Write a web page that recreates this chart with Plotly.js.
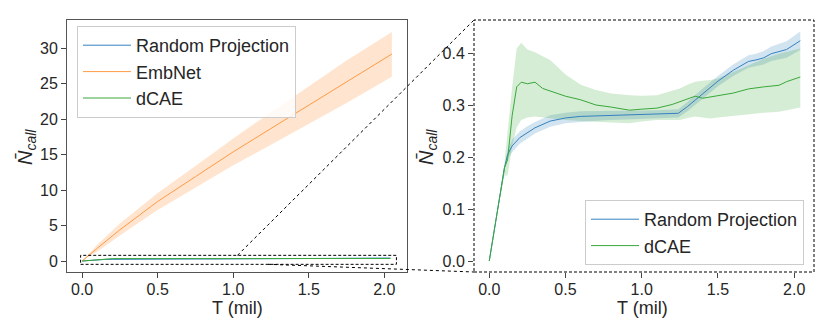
<!DOCTYPE html>
<html>
<head>
<meta charset="utf-8">
<script src="https://cdn.plot.ly/plotly-3.0.1.min.js"></script>
<style>
  html, body { margin: 0; padding: 0; background: #fff; }
  #graph { width: 830px; height: 332px; }
</style>
</head>
<body>
<div id="graph"></div>
<script>
// Random Projection (blue)
var rpT = [0, 0.05, 0.1, 0.12, 0.15, 0.2, 0.25, 0.3, 0.4, 0.5, 0.6, 0.75, 0.9, 1.0, 1.1, 1.24, 1.3, 1.4, 1.5, 1.6, 1.7, 1.75, 1.8, 1.85, 1.9, 1.95, 2.04];
var rpMean = [0, 0.09, 0.18, 0.205, 0.222, 0.238, 0.248, 0.257, 0.27, 0.276, 0.279, 0.2805, 0.281, 0.2825, 0.283, 0.285, 0.298, 0.323, 0.347, 0.368, 0.385, 0.388, 0.392, 0.4, 0.404, 0.408, 0.425];
var rpUpper = [0, 0.092, 0.185, 0.213, 0.234, 0.25, 0.26, 0.268, 0.281, 0.286, 0.289, 0.2895, 0.289, 0.2905, 0.291, 0.293, 0.307, 0.333, 0.357, 0.379, 0.397, 0.4, 0.405, 0.414, 0.419, 0.424, 0.443];
var rpLower = [0, 0.088, 0.175, 0.197, 0.21, 0.226, 0.236, 0.246, 0.259, 0.266, 0.269, 0.2715, 0.273, 0.2745, 0.275, 0.277, 0.289, 0.313, 0.337, 0.357, 0.373, 0.376, 0.379, 0.386, 0.389, 0.392, 0.407];

// EmbNet (orange)
var embT = [0, 0.05, 0.1, 0.25, 0.5, 0.75, 1.0, 1.25, 1.5, 1.75, 2.05];
var embMean = [0, 0.95, 1.8, 4.4, 8.4, 11.9, 15.4, 18.7, 22.0, 25.3, 29.2];
var embUpper = [0, 1.2, 2.3, 5.3, 9.6, 13.4, 17.3, 21.0, 24.7, 28.3, 32.3];
var embLower = [0, 0.7, 1.3, 3.6, 7.2, 10.4, 13.5, 16.4, 19.3, 22.3, 26.0];

// dCAE (green)
var dcaeT = [0, 0.05, 0.1, 0.12, 0.15, 0.18, 0.21, 0.25, 0.3, 0.35, 0.4, 0.5, 0.6, 0.7, 0.8, 0.92, 1.0, 1.1, 1.2, 1.25, 1.3, 1.35, 1.4, 1.45, 1.5, 1.6, 1.7, 1.8, 1.9, 1.95, 2.04];
var dcaeMean = [0, 0.09, 0.18, 0.195, 0.28, 0.336, 0.345, 0.342, 0.345, 0.333, 0.328, 0.318, 0.311, 0.301, 0.297, 0.291, 0.293, 0.295, 0.302, 0.307, 0.312, 0.318, 0.314, 0.316, 0.319, 0.324, 0.332, 0.336, 0.339, 0.346, 0.355];
var dcaeUpper = [0, 0.09, 0.19, 0.25, 0.335, 0.41, 0.421, 0.408, 0.403, 0.395, 0.388, 0.36, 0.34, 0.33, 0.323, 0.32, 0.319, 0.32, 0.328, 0.333, 0.34, 0.346, 0.348, 0.349, 0.352, 0.365, 0.377, 0.39, 0.4, 0.404, 0.41];
var dcaeLower = [0, 0.09, 0.165, 0.165, 0.22, 0.258, 0.272, 0.277, 0.279, 0.278, 0.276, 0.272, 0.27, 0.268, 0.267, 0.266, 0.269, 0.272, 0.272, 0.272, 0.276, 0.279, 0.277, 0.275, 0.277, 0.281, 0.283, 0.286, 0.288, 0.29, 0.296];

var FONT = 'Liberation Sans, Arial, sans-serif';
var W = 830, H = 332;

// pixel -> paper helpers (margins are zero so paper == page)
function px(x) { return x / W; }
function py(y) { return 1 - y / H; }

// shaded band as a closed polygon
function band(t, up, lo, color, xa, ya) {
  return {
    x: t.concat(t.slice().reverse()),
    y: up.concat(lo.slice().reverse()),
    type: 'scatter', mode: 'lines', fill: 'toself',
    fillcolor: color, line: { width: 0 },
    hoverinfo: 'skip', showlegend: false,
    xaxis: xa, yaxis: ya
  };
}

function meanLine(t, y, name, color, xa, ya, legend) {
  return {
    x: t, y: y, name: name, legendgroup: name,
    type: 'scatter', mode: 'lines',
    line: { color: color, width: 1 },
    xaxis: xa, yaxis: ya, legend: legend
  };
}

var BLUE = '#3581c0', ORANGE = '#ff9a45', GREEN = '#3aa83a';
var BLUE_F = 'rgba(31,119,180,0.2)', ORANGE_F = 'rgba(255,127,14,0.2)', GREEN_F = 'rgba(44,160,44,0.2)';

var data = [
  // left panel
  band(rpT, rpUpper, rpLower, BLUE_F, 'x', 'y'),
  band(embT, embUpper, embLower, ORANGE_F, 'x', 'y'),
  band(dcaeT, dcaeUpper, dcaeLower, GREEN_F, 'x', 'y'),
  meanLine(rpT, rpMean, 'Random Projection', BLUE, 'x', 'y', 'legend'),
  meanLine(embT, embMean, 'EmbNet', ORANGE, 'x', 'y', 'legend'),
  meanLine(dcaeT, dcaeMean, 'dCAE', GREEN, 'x', 'y', 'legend'),
  // right panel (zoom)
  band(rpT, rpUpper, rpLower, BLUE_F, 'x2', 'y2'),
  band(dcaeT, dcaeUpper, dcaeLower, GREEN_F, 'x2', 'y2'),
  meanLine(rpT, rpMean, 'Random Projection', BLUE, 'x2', 'y2', 'legend2'),
  meanLine(dcaeT, dcaeMean, 'dCAE', GREEN, 'x2', 'y2', 'legend2')
];

var tickFont = { family: FONT, size: 16, color: '#262626' };
var axisBase = {
  showgrid: false, zeroline: false, ticks: 'outside', ticklen: 5,
  tickcolor: '#444', tickwidth: 1, tickfont: tickFont
};

var yDom = [py(272), py(20)];

var legendBase = {
  bgcolor: 'rgba(255,255,255,0.8)', bordercolor: '#cccccc', borderwidth: 1,
  font: { family: FONT, size: 18, color: '#262626' },
  traceorder: 'grouped', tracegroupgap: 0, itemwidth: 48
};

function title(text, x, y, angle, size) {
  return {
    text: text, xref: 'paper', yref: 'paper', x: px(x), y: py(y),
    xanchor: 'center', yanchor: 'middle', textangle: angle || 0,
    showarrow: false, font: { family: FONT, size: size, color: '#262626' }
  };
}

var DASH = '3px,2px';

var layout = {
  width: W, height: H,
  margin: { l: 0, r: 0, t: 0, b: 0 },
  paper_bgcolor: '#fff', plot_bgcolor: '#fff',
  font: { family: FONT, color: '#262626' },
  xaxis: Object.assign({}, axisBase, {
    domain: [px(67), px(407)], range: [-0.1, 2.15], anchor: 'y',
    tickvals: [0, 0.5, 1, 1.5, 2], tickformat: '.1f', ticklabelstandoff: -2,
    showline: true, mirror: true, linecolor: '#555', linewidth: 1
  }),
  yaxis: Object.assign({}, axisBase, {
    domain: yDom, range: [-1.55, 34.0], anchor: 'x',
    tickvals: [0, 5, 10, 15, 20, 25, 30],
    showline: true, mirror: true, linecolor: '#555', linewidth: 1
  }),
  xaxis2: Object.assign({}, axisBase, {
    domain: [px(474), px(814)], range: [-0.1, 2.13], anchor: 'y2',
    tickvals: [0, 0.5, 1, 1.5, 2], tickformat: '.1f', ticklabelstandoff: -2, showline: false
  }),
  yaxis2: Object.assign({}, axisBase, {
    domain: yDom, range: [-0.0212, 0.465], anchor: 'x2',
    tickvals: [0, 0.1, 0.2, 0.3, 0.4], tickformat: '.1f', showline: false
  }),
  legend: Object.assign({}, legendBase, {
    x: px(77), y: py(26), xanchor: 'left', yanchor: 'top'
  }),
  legend2: Object.assign({}, legendBase, {
    x: px(804), y: py(265), xanchor: 'right', yanchor: 'bottom'
  }),
  annotations: [
    title('T (mil)', 237, 308, 0, 18),
    title('T (mil)', 642, 308, 0, 18),
    title('<i>N̄</i><sub><i>call</i></sub>', 27, 147, -90, 20),
    title('<i>N̄</i><sub><i>call</i></sub>', 428, 147, -90, 20)
  ],
  shapes: [
    // region on the left panel that the right panel zooms into
    { type: 'rect', xref: 'x', yref: 'y', x0: -0.01, x1: 2.08, y0: -0.47, y1: 0.8,
      line: { color: '#000', width: 1, dash: DASH }, layer: 'above' },
    // dashed frame of the zoom panel
    { type: 'rect', xref: 'paper', yref: 'paper', x0: px(474), x1: px(814), y0: py(272), y1: py(20),
      line: { color: '#000', width: 1, dash: DASH }, layer: 'above' },
    // connector lines
    { type: 'line', xref: 'paper', yref: 'paper', x0: px(237.5), y0: py(255.3), x1: px(474), y1: py(20),
      line: { color: '#000', width: 1, dash: 'dot' }, layer: 'above' },
    { type: 'line', xref: 'paper', yref: 'paper', x0: px(268), y0: py(264.3), x1: px(474), y1: py(272),
      line: { color: '#000', width: 1, dash: 'dot' }, layer: 'above' }
  ]
};

Plotly.newPlot('graph', data, layout, { staticPlot: true });
</script>
</body>
</html>
